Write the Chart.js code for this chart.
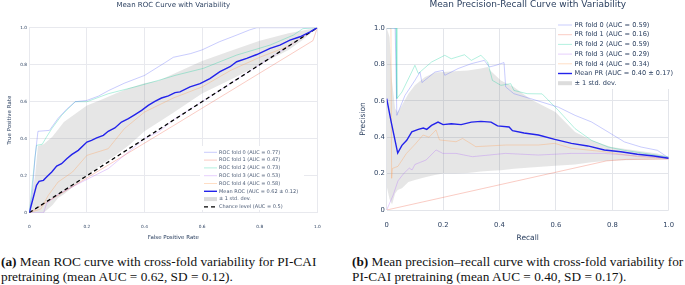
<!DOCTYPE html>
<html>
<head>
<meta charset="utf-8">
<script src="https://cdn.jsdelivr.net/npm/chart.js@4.4.1/dist/chart.umd.min.js"></script>
<style>
body { margin: 0; background: #fff; width: 685px; height: 285px; overflow: hidden; position: relative; }
#rocChart { position: absolute; left: 0; top: 0; }
#prChart { position: absolute; left: 340px; top: 0; }
.cap { position: absolute; font-family: "Liberation Serif", serif; font-size: 13.3px; line-height: 15px; color: #111; white-space: nowrap; }
</style>
</head>
<body>
<canvas id="rocChart" width="340" height="245"></canvas>
<canvas id="prChart" width="345" height="245"></canvas>
<div class="cap" style="left:1px; top:253.5px;"><b>(a)</b> Mean ROC curve with cross-fold variability for PI-CAI<br>pretraining (mean AUC = 0.62, SD = 0.12).</div>
<div class="cap" style="left:352px; top:253.5px;"><b>(b)</b> Mean precision–recall curve with cross-fold variability for<br>PI-CAI pretraining (mean AUC = 0.40, SD = 0.17).</div>
<script>
// ---- ROC data ----
const rocLabels = ['ROC fold 0 (AUC = 0.77)', 'ROC fold 1 (AUC = 0.47)', 'ROC fold 2 (AUC = 0.73)',
    'ROC fold 3 (AUC = 0.53)', 'ROC fold 4 (AUC = 0.58)', 'Mean ROC (AUC = 0.62 ± 0.12)',
    '± 1 std. dev.', 'Chance level (AUC = 0.5)'];
const rocFold0 = [[0,0],[0.01,0.1],[0.02,0.3],[0.03,0.44],[0.07,0.445],[0.1,0.51],[0.13,0.56],[0.16,0.6],[0.2,0.607],[0.24,0.63],[0.275,0.66],[0.33,0.7],[0.4,0.742],[0.47,0.81],[0.5,0.84],[0.56,0.86],[0.6,0.88],[0.66,0.924],[0.72,0.96],[0.765,0.988],[0.79,1],[1,1]];
const rocFold1 = [[0,0],[0.5,0.47],[0.985,0.93],[1,1]];
const rocFold2 = [[0,0],[0.01,0.15],[0.02,0.3],[0.025,0.364],[0.045,0.37],[0.06,0.41],[0.078,0.454],[0.112,0.526],[0.159,0.6],[0.2,0.6],[0.274,0.643],[0.367,0.68],[0.448,0.715],[0.506,0.742],[0.604,0.78],[0.72,0.852],[0.836,0.906],[0.917,0.96],[0.95,0.995],[1,1]];
const rocFold3 = [[0,0],[0.05,0],[0.06,0.05],[0.1,0.1],[0.15,0.14],[0.2,0.18],[0.274,0.238],[0.33,0.31],[0.4,0.4],[0.448,0.436],[0.506,0.508],[0.6,0.6],[0.7,0.7],[0.8,0.8],[0.9,0.9],[1,1]];
const rocFold4 = [[0,0],[0.04,0.02],[0.066,0.094],[0.1,0.166],[0.15,0.22],[0.2,0.31],[0.274,0.346],[0.33,0.454],[0.4,0.544],[0.5,0.62],[0.6,0.68],[0.7,0.77],[0.8,0.84],[0.9,0.9],[1,1]];
const rocMean = [[0,0],[0.025,0.148],[0.034,0.169],[0.049,0.175],[0.06,0.193],[0.078,0.22],[0.095,0.252],[0.112,0.265],[0.13,0.292],[0.147,0.314],[0.17,0.337],[0.2,0.382],[0.216,0.391],[0.234,0.404],[0.257,0.418],[0.274,0.44],[0.297,0.458],[0.32,0.49],[0.344,0.508],[0.367,0.53],[0.39,0.553],[0.413,0.58],[0.436,0.602],[0.459,0.62],[0.483,0.631],[0.506,0.649],[0.523,0.653],[0.558,0.68],[0.593,0.698],[0.627,0.725],[0.662,0.762],[0.697,0.789],[0.72,0.816],[0.755,0.834],[0.79,0.855],[0.836,0.888],[0.87,0.906],[0.905,0.933],[0.94,0.951],[0.975,0.978],[1,1]];
const rocBandX = [0,0.02,0.03,0.05,0.08,0.1,0.12,0.16,0.2,0.25,0.3,0.35,0.4,0.45,0.5,0.6,0.7,0.8,0.9,0.95,1];
const rocUpper = [0,0.2,0.36,0.37,0.41,0.45,0.49,0.535,0.58,0.61,0.645,0.675,0.7,0.715,0.75,0.82,0.875,0.93,0.97,0.985,1];
const rocLower = [0,0,0,0,0.04,0.08,0.1,0.15,0.2,0.26,0.31,0.37,0.44,0.49,0.54,0.645,0.72,0.8,0.88,0.935,1];
const chanceLine = [[0,0],[1,1]];

// ---- PR data ----
const prLabels = ['PR fold 0 (AUC = 0.59)', 'PR fold 1 (AUC = 0.16)', 'PR fold 2 (AUC = 0.59)',
    'PR fold 3 (AUC = 0.29)', 'PR fold 4 (AUC = 0.34)', 'Mean PR (AUC = 0.40 ± 0.17)', '± 1 std. dev.'];
const prFold0 = [[0,1],[0.03,1],[0.036,0.52],[0.065,0.63],[0.1,0.712],[0.118,0.758],[0.125,0.7],[0.171,0.758],[0.2,0.767],[0.206,0.74],[0.253,0.777],[0.3,0.804],[0.346,0.822],[0.364,0.786],[0.387,0.795],[0.416,0.81],[0.422,0.676],[0.451,0.639],[0.51,0.612],[0.609,0.565],[0.668,0.52],[0.726,0.484],[0.785,0.429],[0.843,0.374],[0.902,0.346],[0.96,0.328],[1,0.286]];
const prFold1 = [[0,0],[0.78,0.27],[0.85,0.278],[1,0.28]];
const prFold2 = [[0,1],[0.033,1],[0.036,0.612],[0.054,0.648],[0.083,0.74],[0.1,0.795],[0.112,0.75],[0.159,0.813],[0.206,0.85],[0.229,0.831],[0.276,0.853],[0.3,0.822],[0.334,0.85],[0.358,0.813],[0.375,0.712],[0.405,0.685],[0.44,0.694],[0.451,0.657],[0.498,0.639],[0.551,0.638],[0.609,0.547],[0.668,0.447],[0.726,0.383],[0.785,0.346],[0.843,0.328],[1,0.291]];
const prFold3 = [[0,0],[0.023,0.082],[0.04,0.16],[0.06,0.2],[0.08,0.23],[0.09,0.22],[0.1,0.25],[0.14,0.275],[0.175,0.33],[0.199,0.311],[0.246,0.311],[0.304,0.293],[0.363,0.302],[0.421,0.311],[0.538,0.302],[0.655,0.311],[0.772,0.311],[0.889,0.297],[1,0.284]];
const prFold4 = [[0,1],[0.015,1],[0.0175,0.174],[0.02,0.228],[0.04,0.24],[0.07,0.311],[0.1,0.36],[0.129,0.412],[0.15,0.4],[0.175,0.44],[0.187,0.385],[0.246,0.375],[0.269,0.393],[0.316,0.348],[0.421,0.357],[0.538,0.357],[0.596,0.366],[0.655,0.339],[0.772,0.32],[0.889,0.293],[1,0.284]];
const prMean = [[0,0.612],[0.016,0.483],[0.039,0.313],[0.054,0.355],[0.071,0.383],[0.089,0.429],[0.112,0.443],[0.13,0.45],[0.142,0.443],[0.159,0.465],[0.182,0.483],[0.2,0.469],[0.229,0.474],[0.264,0.469],[0.3,0.483],[0.334,0.487],[0.37,0.483],[0.393,0.462],[0.434,0.456],[0.446,0.436],[0.487,0.423],[0.538,0.412],[0.596,0.388],[0.655,0.366],[0.713,0.352],[0.772,0.33],[0.83,0.32],[0.889,0.306],[0.947,0.297],[1,0.284]];
const prBandX = [0,0.01,0.019,0.03,0.039,0.054,0.077,0.1,0.136,0.171,0.2,0.241,0.288,0.334,0.358,0.37,0.405,0.451,0.51,0.598,0.668,0.726,0.796,0.878,0.96,1];
const prUpper = [1,0.95,0.703,0.557,0.538,0.575,0.639,0.685,0.731,0.755,0.758,0.762,0.767,0.777,0.786,0.762,0.712,0.676,0.608,0.538,0.429,0.383,0.346,0.328,0.31,0.291];
const prLower = [0.13,0.06,0.03,0.09,0.11,0.12,0.154,0.165,0.18,0.192,0.2,0.2,0.203,0.212,0.214,0.215,0.218,0.227,0.233,0.243,0.25,0.262,0.272,0.275,0.277,0.279];

const foldColors = ['rgba(99,110,250,0.35)', 'rgba(239,85,59,0.3)', 'rgba(0,204,150,0.3)', 'rgba(171,99,250,0.3)', 'rgba(255,161,90,0.35)'];
const meanColor = 'rgb(35,35,235)';
const bandColor = 'rgba(128,128,128,0.2)';
const textColor = '#2a3f5f';
const fontName = 'DejaVu Sans';

function pts(arr) {
    return arr.map(p => ({x: p[0], y: p[1]}));
}
function bandPts(xs, ys) {
    return xs.map((x, i) => ({x: x, y: ys[i]}));
}

function buildSets(folds, labels, mean, bx, up, lo, chance) {
    const sets = folds.map((f, i) => ({
        label: labels[i], data: pts(f), borderColor: foldColors[i], borderWidth: 1, order: 3
    }));
    sets.push({label: labels[5], data: pts(mean), borderColor: meanColor, borderWidth: 1.4, order: 1});
    const lowIdx = sets.length + (chance ? 2 : 1);
    sets.push({
        label: labels[6], data: bandPts(bx, up), borderColor: 'rgba(0,0,0,0)', borderWidth: 0,
        backgroundColor: bandColor, fill: lowIdx, order: 6, legendColor: '#dcdcdc', legendWidth: 4
    });
    if (chance) {
        sets.push({label: labels[7], data: pts(chance), borderColor: '#000', borderWidth: 1.3, borderDash: [4, 3], order: 2});
    }
    sets.push({label: '', data: bandPts(bx, lo), borderColor: 'rgba(0,0,0,0)', borderWidth: 0, fill: false, order: 6});
    return sets;
}

// legend drawn inside the plot, like the plotly one
const boxLegend = {
    id: 'boxLegend',
    afterDraw(chart, args, o) {
        const ctx = chart.ctx;
        ctx.save();
        ctx.fillStyle = '#fff';
        ctx.fillRect(o.x, o.y, o.w, o.h);
        ctx.font = o.size + 'px "' + fontName + '"';
        ctx.textBaseline = 'middle';
        let y = o.firstY;
        chart.data.datasets.forEach(ds => {
            if (!ds.label) return;
            ctx.strokeStyle = ds.legendColor || ds.borderColor;
            ctx.lineWidth = ds.legendWidth || ds.borderWidth;
            ctx.setLineDash(ds.borderDash || []);
            ctx.beginPath();
            ctx.moveTo(o.lineX, y);
            ctx.lineTo(o.lineX + o.lineLen, y);
            ctx.stroke();
            ctx.setLineDash([]);
            ctx.fillStyle = o.color;
            ctx.fillText(ds.label, o.textX, y);
            y += o.step;
        });
        ctx.restore();
    }
};

function makeChart(id, sets, c) {
    const tickFont = {family: fontName, size: c.tick};
    const axisFont = {family: fontName, size: c.axisFont};
    return new Chart(document.getElementById(id), {
        type: 'line',
        data: {datasets: sets},
        plugins: [boxLegend],
        options: {
            responsive: false,
            animation: false,
            devicePixelRatio: 1,
            elements: {point: {radius: 0}, line: {tension: 0}},
            layout: {padding: {left: 0, right: c.padRight, top: 0, bottom: 0}},
            scales: {
                x: {
                    type: 'linear', min: 0, max: 1,
                    border: {display: false},
                    grid: {color: c.grid, drawTicks: false},
                    ticks: {stepSize: 0.2, padding: c.xTickPad, color: textColor, font: tickFont, maxRotation: 0},
                    title: {display: true, text: c.xTitle, color: textColor, font: axisFont, padding: {top: 0, bottom: c.xTitlePad}},
                    afterFit: s => { s.height = c.xH; }
                },
                y: {
                    type: 'linear', min: 0, max: 1,
                    border: {display: false},
                    grid: {color: c.grid, drawTicks: false},
                    ticks: {stepSize: 0.2, padding: c.yTickPad, color: textColor, font: tickFont},
                    title: {display: true, text: c.yTitle, color: textColor, font: axisFont, padding: {top: c.yTitlePad, bottom: 0}},
                    afterFit: s => { s.width = c.yW; }
                }
            },
            plugins: {
                legend: {display: false},
                tooltip: {enabled: false},
                title: {
                    display: true, text: c.title, color: textColor, fullSize: false,
                    font: {family: fontName, size: c.titleFont, weight: 'normal', lineHeight: 1},
                    padding: {top: c.titleTop, bottom: c.titleBottom}
                },
                boxLegend: c.legend
            }
        }
    });
}

makeChart('rocChart',
    buildSets([rocFold0, rocFold1, rocFold2, rocFold3, rocFold4], rocLabels, rocMean, rocBandX, rocUpper, rocLower, chanceLine),
    {
        title: 'Mean ROC Curve with Variability', titleFont: 7, titleTop: 1.5, titleBottom: 19.2,
        xTitle: 'False Positive Rate', yTitle: 'True Positive Rate', axisFont: 5.5,
        tick: 4.3, grid: '#e8e9ee', padRight: 22.7, yW: 29.3, xH: 32.3,
        xTickPad: 11.9, yTickPad: 2.2, xTitlePad: 3.7, yTitlePad: 6.7,
        legend: {x: 200, y: 146, w: 104, h: 64, lineX: 204, lineLen: 13, textX: 219, firstY: 152.3, step: 7.8, size: 5, color: '#4a5a74'}
    });

makeChart('prChart',
    buildSets([prFold0, prFold1, prFold2, prFold3, prFold4], prLabels, prMean, prBandX, prUpper, prLower, null),
    {
        title: 'Mean Precision-Recall Curve with Variability', titleFont: 9, titleTop: 0, titleBottom: 19,
        xTitle: 'Recall', yTitle: 'Precision', axisFont: 7.5,
        tick: 6.8, grid: '#e3e5ea', padRight: 11.7, yW: 46.7, xH: 35,
        xTickPad: 10.9, yTickPad: 1.8, xTitlePad: 2.6, yTitlePad: 18.8,
        legend: {x: 216, y: 17, w: 129, h: 72, lineX: 218, lineLen: 14, textX: 234.5, firstY: 25, step: 9.7, size: 6.6, color: textColor}
    });
</script>
</body>
</html>
